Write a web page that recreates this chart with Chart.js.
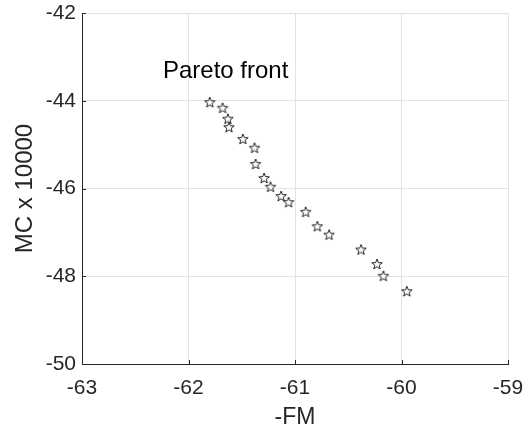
<!DOCTYPE html>
<html>
<head>
<meta charset="utf-8">
<script src="https://cdn.jsdelivr.net/npm/chart.js@4"></script>
<style>
  html, body { margin: 0; padding: 0; background: #fff; }
  #wrap { width: 531px; height: 431px; }
</style>
</head>
<body>
<div id="wrap"><canvas id="paretoChart" width="531" height="431"></canvas></div>
<script>
  // pareto front points
  const fmValues = [-61.80, -61.68, -61.63, -61.62, -61.49, -61.38, -61.37, -61.29, -61.23,
    -61.13, -61.06, -60.90, -60.79, -60.68, -60.38, -60.23, -60.17, -59.95];
  const mcValues = [-44.03, -44.16, -44.41, -44.60, -44.87, -45.07, -45.44, -45.76, -45.96,
    -46.17, -46.31, -46.53, -46.86, -47.05, -47.39, -47.72, -47.99, -48.34];
  const xTicks = [-63, -62, -61, -60, -59];
  const yTicks = [-50, -48, -46, -44, -42];
  const noteText = 'Pareto front';
  const notePos = [-62.24, -43.49];

  const points = fmValues.map((x, i) => ({ x: x, y: mcValues[i] }));

  // 5 point star outline as marker
  function makeStar(r) {
    const c = document.createElement('canvas');
    const s = Math.ceil(r * 2 + 3);
    c.width = s; c.height = s;
    const g = c.getContext('2d');
    const cx = s / 2, cy = s / 2 + 0.5;
    g.beginPath();
    for (let k = 0; k < 10; k++) {
      const rad = k % 2 === 0 ? r : r * 0.42;
      const a = -Math.PI / 2 + k * Math.PI / 5;
      const px = cx + rad * Math.cos(a), py = cy + rad * Math.sin(a);
      if (k === 0) g.moveTo(px, py); else g.lineTo(px, py);
    }
    g.closePath();
    g.fillStyle = '#fff';
    g.fill();
    g.lineWidth = 1;
    g.strokeStyle = '#222';
    g.stroke();
    return c;
  }
  const star = makeStar(5.5);

  // text label + small inward tick marks like matlab axes
  const notePlugin = {
    id: 'note',
    afterDatasetsDraw(chart) {
      const ctx = chart.ctx;
      const xs = chart.scales.x, ys = chart.scales.y;
      const area = chart.chartArea;
      ctx.save();
      ctx.strokeStyle = '#262626';
      ctx.lineWidth = 1;
      ctx.beginPath();
      xTicks.forEach(v => {
        const px = Math.round(xs.getPixelForValue(v)) + 0.5;
        ctx.moveTo(px, area.bottom);
        ctx.lineTo(px, area.bottom - 4);
      });
      yTicks.forEach(v => {
        const py = Math.round(ys.getPixelForValue(v)) + 0.5;
        ctx.moveTo(area.left, py);
        ctx.lineTo(area.left + 4, py);
      });
      ctx.stroke();

      ctx.font = '24px "Liberation Sans", Arial, sans-serif';
      ctx.fillStyle = '#000';
      ctx.textAlign = 'left';
      ctx.textBaseline = 'alphabetic';
      ctx.fillText(noteText, xs.getPixelForValue(notePos[0]), ys.getPixelForValue(notePos[1]));
      ctx.restore();
    }
  };

  const ctx = document.getElementById('paretoChart');
  new Chart(ctx, {
    type: 'scatter',
    data: {
      datasets: [{
        label: 'Pareto front',
        data: points,
        pointStyle: star,
        pointRadius: 6,
        pointHoverRadius: 6
      }]
    },
    options: {
      responsive: false,
      animation: false,
      layout: { padding: { top: 13, right: 23, left: 0, bottom: 0 } },
      plugins: { legend: { display: false }, tooltip: { enabled: false } },
      scales: {
        x: {
          type: 'linear',
          min: -63,
          max: -59,
          afterBuildTicks: (axis) => { axis.ticks = xTicks.map(v => ({ value: v })); },
          afterFit: (axis) => {
            axis.height = 67;
            axis.paddingLeft = 0;
            axis.paddingRight = 0;
          },
          grid: { color: '#e3e3e3', drawTicks: false },
          border: { color: '#262626', width: 1 },
          ticks: {
            color: '#262626',
            padding: 12,
            font: { family: '"Liberation Sans", Arial, sans-serif', size: 21 }
          },
          title: {
            display: true,
            text: '-FM',
            color: '#262626',
            padding: { top: 0, bottom: 0 },
            font: { family: '"Liberation Sans", Arial, sans-serif', size: 23 }
          }
        },
        y: {
          type: 'linear',
          min: -50,
          max: -42,
          afterBuildTicks: (axis) => { axis.ticks = yTicks.map(v => ({ value: v })); },
          afterFit: (axis) => {
            axis.width = 82;
            axis.paddingTop = 0;
            axis.paddingBottom = 0;
          },
          grid: { color: '#e3e3e3', drawTicks: false },
          border: { color: '#262626', width: 1 },
          ticks: {
            color: '#262626',
            padding: 6,
            font: { family: '"Liberation Sans", Arial, sans-serif', size: 21 }
          },
          title: {
            display: true,
            text: 'MC x 10000',
            color: '#262626',
            padding: { top: 11, bottom: 11 },
            font: { family: '"Liberation Sans", Arial, sans-serif', size: 24 }
          }
        }
      }
    },
    plugins: [notePlugin]
  });
</script>
</body>
</html>
